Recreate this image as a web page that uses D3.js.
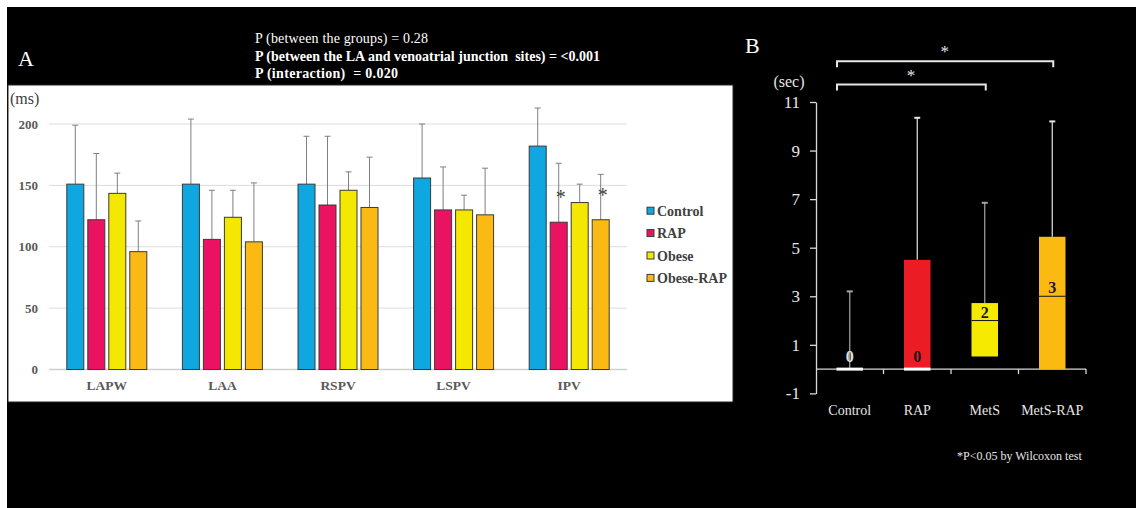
<!DOCTYPE html>
<html>
<head>
<meta charset="utf-8">
<script src="https://cdn.jsdelivr.net/npm/d3@7"></script>
<style>
  html, body { margin: 0; padding: 0; background: #ffffff; }
  svg { display: block; }
  text { font-family: "Liberation Serif", "Times New Roman", serif; }
</style>
</head>
<body>
<svg id="chart" width="1136" height="508"></svg>
<script>
// ---- Panel A: conduction time by site (ms), mean + SD ----
const sites = ["LAPW", "LAA", "RSPV", "LSPV", "IPV"];
const groups = ["Control", "RAP", "Obese", "Obese-RAP"];
const groupColors = ["#0ea7df", "#ea1261", "#f4e700", "#fbb913"];
const meanControl  = [151, 151, 151, 156, 182];
const meanRAP      = [122, 106, 134, 130, 120];
const meanObese    = [143.5, 124, 146, 130, 136];
const meanObeseRAP = [96, 104, 132, 126, 122];
const sdControl  = [48, 53, 39, 44, 31];
const sdRAP      = [54, 40, 56, 35, 48];
const sdObese    = [16.5, 22, 15, 12, 15];
const sdObeseRAP = [25, 48, 41, 38, 37];
const yTicksA = [0, 50, 100, 150, 200];
const starredA = [{ site: "IPV", group: "RAP" }, { site: "IPV", group: "Obese-RAP" }];
const pLines = [
  "P (between the groups) = 0.28",
  "P (between the LA and venoatrial junction  sites) = <0.001",
  "P (interaction)  = 0.020"
];
const pLineWidths = [173, 345, 143];

// ---- Panel B: box plot (sec) ----
const boxCats = ["Control", "RAP", "MetS", "MetS-RAP"];
const boxColors = ["#ffffff", "#ec1c24", "#f5ea00", "#fbba12"];
const boxQ1 = [0, 0, 0.52, 0];
const boxMedian = [0, 0, 2, 3];
const boxQ3 = [0, 4.5, 2.72, 5.45];
const boxMax = [3.2, 10.35, 6.85, 10.2];
const yTicksB = [-1, 1, 3, 5, 7, 9, 11];
const sigPairs = [["Control", "MetS"], ["Control", "MetS-RAP"]];

const meansBySeries = [meanControl, meanRAP, meanObese, meanObeseRAP];
const sdBySeries = [sdControl, sdRAP, sdObese, sdObeseRAP];

const svg = d3.select("#chart");

// dark backdrop
svg.append("rect").attr("x", 7).attr("y", 7).attr("width", 1129).attr("height", 501).attr("fill", "#000");

// ================= Panel A =================
svg.append("rect").attr("x", 8).attr("y", 85).attr("width", 725).attr("height", 317)
  .attr("fill", "#fff").attr("stroke", "#222").attr("stroke-width", 1);

svg.append("text").attr("x", 18).attr("y", 66).attr("fill", "#fff")
  .attr("font-size", 22).text("A");

svg.append("g").selectAll("text").data(pLines).join("text")
  .attr("x", 255).attr("y", (d, i) => 43 + i * 17.5)
  .attr("fill", "#fff").attr("font-size", 14)
  .attr("font-weight", (d, i) => i === 0 ? "normal" : "bold")
  .attr("textLength", (d, i) => pLineWidths[i]).attr("lengthAdjust", "spacing")
  .style("white-space", "pre").attr("xml:space", "preserve")
  .text(d => d);

const yA = d3.scaleLinear().domain([0, 200]).range([369.5, 124]);
const xA = d3.scaleBand().domain(sites).range([49, 627]);
const xSub = d3.scaleBand().domain(groups).range([0, 80]).paddingInner(0.19);
const groupOffset = xA.bandwidth() / 2 - 40;

// gridlines
svg.append("g").selectAll("line").data(yTicksA).join("line")
  .attr("x1", 49).attr("x2", 627)
  .attr("y1", d => yA(d)).attr("y2", d => yA(d))
  .attr("stroke", d => d === 0 ? "#cfcfcf" : "#dcdcdc").attr("stroke-width", d => d === 0 ? 1.5 : 1);

// y tick labels
const axA = svg.append("g").attr("transform", "translate(42,0)")
  .call(d3.axisLeft(yA).tickValues(yTicksA).tickSize(0).tickPadding(4));
axA.select(".domain").remove();
axA.selectAll("text").attr("font-family", "Liberation Serif, serif")
  .attr("font-size", 13).attr("font-weight", "bold").attr("fill", "#595959");

svg.append("text").attr("x", 10).attr("y", 104).attr("font-size", 16).attr("fill", "#404040").text("(ms)");

// x category labels
const axAx = svg.append("g").attr("transform", `translate(0,${yA(0)})`)
  .call(d3.axisBottom(xA).tickSize(0).tickPadding(11));
axAx.select(".domain").remove();
axAx.selectAll("text").attr("font-family", "Liberation Serif, serif")
  .attr("font-size", 13.5).attr("font-weight", "bold").attr("fill", "#595959");

// bars
const barData = [];
sites.forEach((s, si) => groups.forEach((g, gi) => {
  barData.push({ site: s, group: g, gi, mean: meansBySeries[gi][si], sd: sdBySeries[gi][si] });
}));
const barX = d => xA(d.site) + groupOffset + xSub(d.group);
const barCx = d => barX(d) + xSub.bandwidth() / 2;

// error bars (upper only)
const eb = svg.append("g").attr("stroke", "#7f7f7f").attr("stroke-width", 1);
eb.selectAll("line.v").data(barData).join("line").attr("class", "v")
  .attr("x1", barCx).attr("x2", barCx)
  .attr("y1", d => yA(d.mean)).attr("y2", d => yA(d.mean + d.sd));
eb.selectAll("line.c").data(barData).join("line").attr("class", "c")
  .attr("x1", d => barCx(d) - 3).attr("x2", d => barCx(d) + 3)
  .attr("y1", d => yA(d.mean + d.sd)).attr("y2", d => yA(d.mean + d.sd));

svg.append("g").selectAll("rect").data(barData).join("rect")
  .attr("x", barX).attr("width", xSub.bandwidth())
  .attr("y", d => yA(d.mean)).attr("height", d => yA(0) - yA(d.mean))
  .attr("fill", d => groupColors[d.gi]).attr("stroke", "#3a3a3a").attr("stroke-width", 1);

// significance marks
svg.append("g").selectAll("text").data(starredA).join("text")
  .attr("x", d => xA(d.site) + groupOffset + xSub(d.group) + xSub.bandwidth() / 2 + 2)
  .attr("y", d => {
    const si = sites.indexOf(d.site), gi = groups.indexOf(d.group);
    return yA(meansBySeries[gi][si]) - 18;
  })
  .attr("text-anchor", "middle").attr("font-size", 20).attr("fill", "#404040").text("*");

// legend
const lg = svg.append("g").selectAll("g").data(groups).join("g")
  .attr("transform", (d, i) => `translate(647,${210.7 + i * 22.4})`);
lg.append("rect").attr("x", 0).attr("y", -3.5).attr("width", 7).attr("height", 7)
  .attr("fill", (d, i) => groupColors[i]).attr("stroke", "#3a3a3a").attr("stroke-width", 1);
lg.append("text").attr("x", 10).attr("y", 5).attr("font-size", 14).attr("font-weight", "bold")
  .attr("fill", "#404040").text(d => d);

// ================= Panel B =================
const yB = d3.scaleLinear().domain([-1, 11]).range([393.4, 102]);
const xB = d3.scaleBand().domain(boxCats).range([816, 1086]);
const boxW = 26.5;

svg.append("text").attr("x", 745).attr("y", 53).attr("fill", "#fff").attr("font-size", 22).text("B");
svg.append("text").attr("x", 789).attr("y", 87).attr("fill", "#e6e6e6").attr("font-size", 16)
  .attr("text-anchor", "middle").text("(sec)");

const axB = svg.append("g").attr("transform", "translate(816,0)")
  .call(d3.axisLeft(yB).tickValues(yTicksB).tickSize(6).tickSizeOuter(0).tickPadding(10).tickFormat(d => String(d)));
axB.selectAll("path, line").attr("stroke", "#d9d9d9").attr("stroke-width", 1.3);
axB.selectAll("text").attr("font-family", "Liberation Serif, serif").attr("font-size", 17).attr("fill", "#e6e6e6");

// x axis at zero with tick marks on band edges
const xAxisB = svg.append("g");
xAxisB.append("line").attr("x1", 816).attr("x2", xB.range()[1])
  .attr("y1", yB(0)).attr("y2", yB(0)).attr("stroke", "#d9d9d9").attr("stroke-width", 1.3);
xAxisB.selectAll("line.t").data(boxCats).join("line").attr("class", "t")
  .attr("x1", d => xB(d) + xB.bandwidth()).attr("x2", d => xB(d) + xB.bandwidth())
  .attr("y1", yB(0)).attr("y2", yB(0) + 5).attr("stroke", "#d9d9d9").attr("stroke-width", 1.3);
xAxisB.selectAll("text").data(boxCats).join("text")
  .attr("x", d => xB(d) + xB.bandwidth() / 2).attr("y", 415)
  .attr("text-anchor", "middle").attr("font-size", 14).attr("fill", "#e6e6e6").text(d => d);

const boxData = boxCats.map((c, i) => ({ c, i, q1: boxQ1[i], med: boxMedian[i], q3: boxQ3[i], max: boxMax[i] }));
const bx = d => xB(d.c) + xB.bandwidth() / 2;
const whiskerColor = ["#a6a6a6", "#e6e6e6", "#a6a6a6", "#e6e6e6"];

// whiskers
const wg = svg.append("g");
wg.selectAll("line.w").data(boxData).join("line").attr("class", "w")
  .attr("x1", bx).attr("x2", bx).attr("y1", d => yB(d.q3)).attr("y2", d => yB(d.max))
  .attr("stroke", d => whiskerColor[d.i]).attr("stroke-width", 1.2);
wg.selectAll("line.cap").data(boxData).join("line").attr("class", "cap")
  .attr("x1", d => bx(d) - 3).attr("x2", d => bx(d) + 3)
  .attr("y1", d => yB(d.max)).attr("y2", d => yB(d.max))
  .attr("stroke", d => whiskerColor[d.i]).attr("stroke-width", 2);

// boxes
svg.append("g").selectAll("rect").data(boxData.filter(d => d.q3 > d.q1)).join("rect")
  .attr("x", d => bx(d) - boxW / 2).attr("width", boxW)
  .attr("y", d => yB(d.q3)).attr("height", d => yB(d.q1) - yB(d.q3))
  .attr("fill", d => boxColors[d.i]);

// medians
svg.append("g").selectAll("line").data(boxData).join("line")
  .attr("x1", d => bx(d) - boxW / 2).attr("x2", d => bx(d) + boxW / 2)
  .attr("y1", d => yB(d.med)).attr("y2", d => yB(d.med))
  .attr("stroke", d => d.med === 0 ? "#ffffff" : "#111")
  .attr("stroke-width", d => d.med === 0 ? 3 : 1);

svg.append("g").selectAll("text").data(boxData).join("text")
  .attr("x", bx).attr("y", d => yB(d.med) - (d.med === 0 ? 7 : 3))
  .attr("text-anchor", "middle").attr("font-size", 16).attr("font-weight", "bold")
  .attr("fill", d => d.i === 0 ? "#e0e0e0" : "#1a1a1a").text(d => String(d.med));

// significance brackets
const brY = [84.5, 61.3];
const br = svg.append("g").selectAll("g").data(sigPairs).join("g");
br.append("path")
  .attr("d", (d, i) => {
    const x1 = xB(d[0]) + 21, x2 = xB(d[1]) + xB.bandwidth() / 2 + 1, y = brY[i];
    return `M${x1},${y + 6}V${y}H${x2}V${y + 6}`;
  })
  .attr("fill", "none").attr("stroke", "#e6e6e6").attr("stroke-width", 2);
br.append("text")
  .attr("x", (d, i) => (xB(d[0]) + 21 + xB(d[1]) + xB.bandwidth() / 2) / 2)
  .attr("y", (d, i) => brY[i] - 4)
  .attr("text-anchor", "middle").attr("font-size", 17).attr("fill", "#e6e6e6").text("*");

svg.append("text").attr("x", 957).attr("y", 460).attr("font-size", 12).attr("fill", "#e6e6e6")
  .text("*P<0.05 by Wilcoxon test");
</script>
</body>
</html>
